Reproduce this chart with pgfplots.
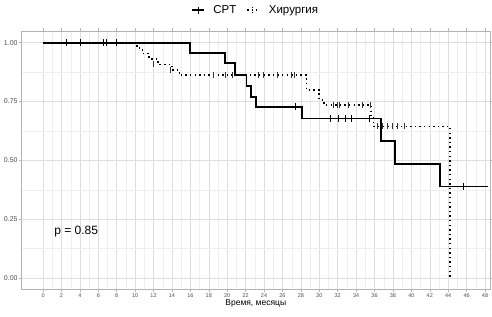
\documentclass[border=0pt]{standalone}
\usepackage{pgfplots}
\pgfplotsset{compat=1.18}
\usepackage{fontspec}
\setmainfont{Liberation Sans}
\definecolor{gridmaj}{HTML}{DEDEDE}
\definecolor{gridmin}{HTML}{EEEEEE}
\definecolor{border}{HTML}{B3B3B3}
\definecolor{ticklab}{HTML}{4D4D4D}
\begin{document}
\begin{tikzpicture}
\begin{axis}[
  name=ax, at={(0,0)}, anchor=south west,
  scale only axis, width=468.5pt, height=258.5pt,
  xmin=-2.34, xmax=48.54, ymin=-0.049, ymax=1.0498,
  xtick={0,2,...,48}, minor xtick={1,3,...,47},
  ytick={0,0.25,0.5,0.75,1}, minor ytick={0.125,0.375,0.625,0.875},
  yticklabels={0.00,0.25,0.50,0.75,1.00},
  /pgf/number format/assume math mode=true,
  grid=both,
  major grid style={gridmaj, line width=0.5pt},
  minor grid style={gridmin, line width=0.3pt},
  axis line style={border, line width=0.7pt},
  tick align=outside, major tick length=2.75pt, minor tick length=0pt,
  tick style={border, line width=0.5pt},
  xticklabel style={font=\fontsize{5.5}{6}\selectfont, text=ticklab, inner sep=1pt},
  yticklabel style={font=\fontsize{7}{8}\selectfont, text=ticklab, inner sep=1pt},
  xlabel={Время, месяцы},
  xlabel style={font=\fontsize{8.5}{10}\selectfont, inner sep=0pt, yshift=-1pt},
  legend style={at={(0.5,1)}, anchor=south, yshift=14pt, draw=none, fill=none,
    font=\fontsize{11.5}{13}\selectfont, inner sep=0pt},
  legend columns=2,
  legend cell align=left,
  clip=false,
]
\addplot[const plot, line width=1.9pt, black,
  legend image code/.code={\draw[line width=1.9pt] (0pt,0pt)--(12pt,0pt); \draw[line width=0.7pt] (6pt,-3.5pt)--(6pt,3.5pt);}]
  coordinates {(0,1) (16,0.956) (19.8,0.913) (20.85,0.862) (22.1,0.815) (22.55,0.771) (23.1,0.728) (28.15,0.678) (36.7,0.581) (38.2,0.484) (43.1,0.389) (48.3,0.389)};
\addlegendentry{\hspace{6pt}CPT\hspace{8pt}\null}
\addplot[const plot, line width=1.6pt, black, dash pattern=on 1.5pt off 3.1pt,
  legend image code/.code={\draw[line width=1.6pt, dash pattern=on 1.5pt off 3.1pt] (0pt,0pt)--(10pt,0pt); \draw[line width=0.5pt] (5pt,-3pt)--(5pt,3pt);}]
  coordinates {(0,1) (10.2,0.977) (10.8,0.954) (11.5,0.931) (12.5,0.908) (14,0.885) (14.8,0.862) (28.6,0.80) (30.0,0.757) (30.5,0.736) (35.6,0.69) (35.9,0.644) (44.2,0)};
\addlegendentry{\hspace{9pt}Хирургия}
\addplot[only marks, mark=|, mark size=3.5pt, mark options={line width=0.7pt}, black, forget plot]
  coordinates {(2.5,1) (4,1) (6.55,1) (6.85,1) (8,1) (27.4,0.728) (31.2,0.678) (32.1,0.678) (32.8,0.678) (33.5,0.678) (35.4,0.678) (45.6,0.389)};
\addplot[only marks, mark=|, mark size=3pt, mark options={line width=0.5pt}, black!80, forget plot]
  coordinates {(12.0,0.908) (13.8,0.885) (18.5,0.862) (19.8,0.862) (20.6,0.862) (23.4,0.862) (23.9,0.862) (25.4,0.862) (27.0,0.862) (27.3,0.862) (31.5,0.736) (31.9,0.736) (32.2,0.736) (33.1,0.736) (34.7,0.736) (35.5,0.736) (36.3,0.644) (36.8,0.644) (37.4,0.644) (37.9,0.644) (38.5,0.644) (39.2,0.644)};
\node[font=\fontsize{12}{14}\selectfont, inner sep=0pt] at (axis cs:3.6,0.197) {p = 0.85};
\end{axis}
\pgfresetboundingbox
\path[use as bounding box] ([xshift=-21.5pt,yshift=-27.5pt]ax.south west) rectangle ([xshift=2pt,yshift=31pt]ax.north east);
\end{tikzpicture}
\end{document}
